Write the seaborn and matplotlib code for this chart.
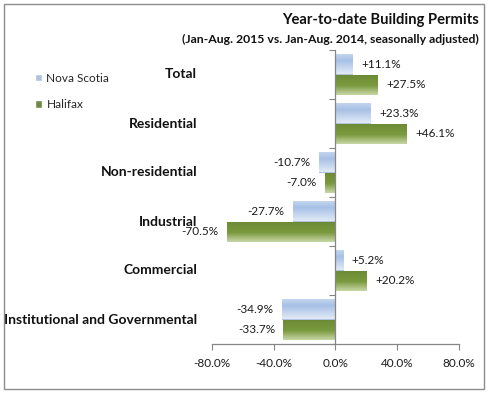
import matplotlib
matplotlib.use("Agg")
import matplotlib.pyplot as plt
import matplotlib.colors as mcolors
import matplotlib.patches as mpatches
import seaborn as sns
import numpy as np
import pandas as pd

sns.set_style("white")
plt.rcParams["font.family"] = ["Lato", "DejaVu Sans"]

CATEGORIES = ["Total", "Residential", "Non-residential", "Industrial",
              "Commercial", "Institutional and Governmental"]
NOVA_SCOTIA = [11.1, 23.3, -10.7, -27.7, 5.2, -34.9]
HALIFAX = [27.5, 46.1, -7.0, -70.5, 20.2, -33.7]
SERIES = ["Nova Scotia", "Halifax"]
TICKS = [-80, -40, 0, 40, 80]

df = pd.DataFrame({
    "category": CATEGORIES * 2,
    "value": NOVA_SCOTIA + HALIFAX,
    "series": [SERIES[0]] * len(CATEGORIES) + [SERIES[1]] * len(CATEGORIES),
})

BLUE = "#a6c0e6"
GREEN = "#76923c"
GRADIENTS = {
    BLUE: mcolors.LinearSegmentedColormap.from_list(
        "b", [(0, "#c9d9ef"), (0.35, "#a6c0e6"), (1, "#e2eaf6")]),
    GREEN: mcolors.LinearSegmentedColormap.from_list(
        "g", [(0, "#6c8a34"), (0.55, "#7a9a3e"), (1, "#c8d7a6")]),
}

fig = plt.figure(figsize=(4.89, 3.93), dpi=100)
ax = fig.add_axes([212 / 489, 1 - 344 / 393, (459 - 212) / 489, (344 - 50) / 393])

sns.barplot(data=df, x="value", y="category", hue="series", orient="h",
            palette=[BLUE, GREEN], width=0.84, gap=0, ax=ax,
            order=CATEGORIES, hue_order=SERIES, legend=True)

# gradient fills clipped to each bar, plus value labels at the bar ends
grad = np.linspace(0, 1, 64).reshape(-1, 1)
for container, col, vals in zip(ax.containers, [BLUE, GREEN], [NOVA_SCOTIA, HALIFAX]):
    for patch, v in zip(container.patches, vals):
        bb = patch.get_bbox()
        im = ax.imshow(grad, cmap=GRADIENTS[col], aspect="auto", origin="upper",
                       extent=(bb.x0, bb.x1, bb.y1, bb.y0), zorder=patch.get_zorder() + 0.1,
                       interpolation="bilinear")
        im.set_clip_path(patch)
        patch.set_edgecolor("none")
        yc = (bb.y0 + bb.y1) / 2
        ax.annotate(f"{v:+.1f}%", (v, yc), xytext=(6 if v >= 0 else -6, 0),
                    textcoords="offset points", ha="left" if v >= 0 else "right",
                    va="center", fontsize=8.5, color="#1a1a1a", annotation_clip=False)

ax.set_xlim(-80, 80)
ax.set_ylim(len(CATEGORIES) - 0.5, -0.5)
ax.set_xticks(TICKS)
ax.set_xticklabels([f"{t:.1f}%" for t in TICKS], fontsize=8.5, color="#1a1a1a")
ax.set_xlabel("")
ax.set_ylabel("")

for s in ["top", "right"]:
    ax.spines[s].set_visible(False)
ax.spines["left"].set_position(("data", 0))
for s in ["left", "bottom"]:
    ax.spines[s].set_color("#868686")
    ax.spines[s].set_linewidth(0.9)
ax.tick_params(axis="x", direction="out", length=4, color="#868686", pad=6, bottom=True)
ax.set_yticks(np.arange(-0.5, len(CATEGORIES) + 0.5, 1))
ax.tick_params(axis="y", direction="out", length=4, color="#868686", labelleft=False, left=True)

for i, cat in enumerate(CATEGORIES):
    ax.text(-0.06, i, cat, transform=ax.get_yaxis_transform(), ha="right", va="center",
            fontsize=10, fontweight="bold", color="#111111")

sns.move_legend(ax, "upper left", bbox_to_anchor=(24 / 489, 1 - 62 / 393),
                bbox_transform=fig.transFigure, frameon=False, title=None,
                fontsize=8.5, handlelength=0.6, handleheight=0.6,
                handletextpad=0.4, labelspacing=1.3)

fig.text(479 / 489, 1 - 20 / 393, "Year-to-date Building Permits", ha="right", va="center",
         fontsize=10.6, fontweight="bold", color="#111111")
fig.text(479 / 489, 1 - 39 / 393, "(Jan-Aug. 2015 vs. Jan-Aug. 2014, seasonally adjusted)",
         ha="right", va="center", fontsize=8.8, fontweight="bold", color="#111111")

fig.patches.append(mpatches.Rectangle((4 / 489, 4 / 393), 480 / 489, 385 / 393,
                                      transform=fig.transFigure, fill=False,
                                      edgecolor="#8c8c8c", linewidth=1))

fig.savefig("out.png", dpi=100)
